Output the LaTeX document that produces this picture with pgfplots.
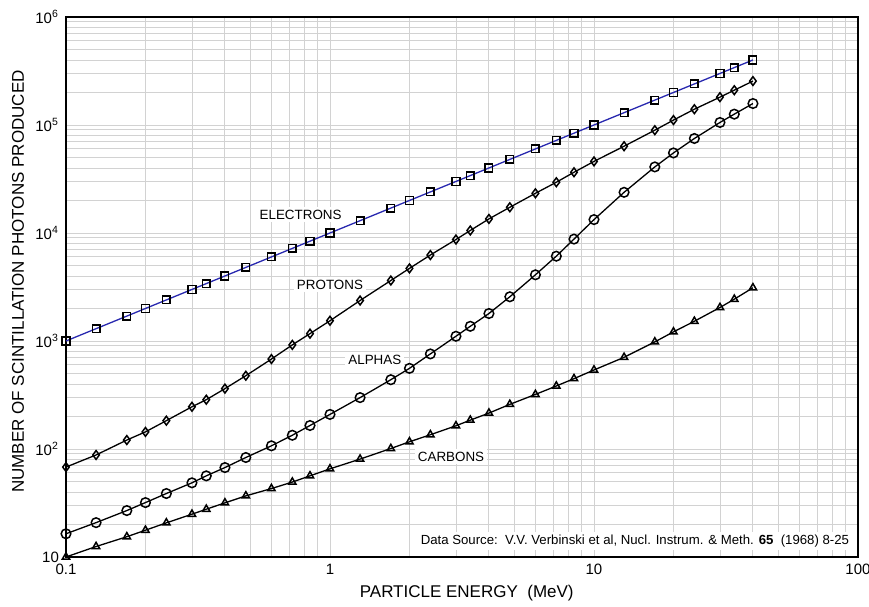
\documentclass[border=0pt]{standalone}
\usepackage{pgfplots}
\pgfplotsset{compat=1.18}
\usepackage{fontspec}
\setmainfont{Liberation Sans}
\definecolor{eblue}{RGB}{40,40,175}
\definecolor{gridgray}{RGB}{210,210,210}
\begin{document}
\begin{tikzpicture}
\begin{axis}[
  xmode=log, ymode=log,
  width=396pt, height=270pt, scale only axis,
  xmin=0.1, xmax=100, ymin=10, ymax=1e6,
  xtick={0.1,1,10,100}, xticklabels={0.1,1,10,100},
  ytick={10,100,1000,10000,100000,1000000},
  yticklabels={10,10\textsuperscript{2},10\textsuperscript{3},10\textsuperscript{4},10\textsuperscript{5},10\textsuperscript{6}},
  major tick length=0pt, minor tick length=0pt,
  grid=both,
  major grid style={gridgray, line width=0.45pt},
  minor grid style={gridgray, line width=0.45pt},
  axis line style={black, line width=1.3pt},
  tick label style={font=\fontsize{7.5}{9}\selectfont, text=black},
  xlabel={PARTICLE ENERGY\ \ (MeV)},
  ylabel={NUMBER OF SCINTILLATION PHOTONS PRODUCED},
  label style={font=\fontsize{8.5}{10}\selectfont},
  xlabel style={at={(rel axis cs:0.506,-0.0667)}, anchor=center},
  ylabel style={at={(rel axis cs:-0.0606,0.51)}, anchor=center},
  clip=false,
]
\coordinate (sw) at (rel axis cs:0,0);
\coordinate (ne) at (rel axis cs:1,1);
% Electrons
\addplot[eblue, line width=0.65pt, mark=square, mark size=1.9pt, mark options={black, solid, fill=none, line width=0.75pt}] coordinates {
(0.1,1000) (0.13,1300) (0.17,1700) (0.2,2000) (0.24,2400) (0.3,3000) (0.34,3400) (0.4,4000) (0.48,4800) (0.6,6000) (0.72,7200) (0.84,8400)
(1.0,10000) (1.3,13000) (1.7,17000) (2.0,20000) (2.4,24000) (3.0,30000) (3.4,34000) (4.0,40000) (4.8,48000) (6.0,60000) (7.2,72000) (8.4,84000)
(10,100000) (13,130000) (17,170000) (20,200000) (24,240000) (30,300000) (34,340000) (40,400000)
};
% Protons
\addplot[black, line width=0.65pt, mark=diamond, mark size=2.2pt, mark options={black, solid, fill=none, line width=0.75pt}] coordinates {
(0.1,68) (0.13,88) (0.17,121) (0.2,144) (0.24,183) (0.3,246) (0.34,286) (0.4,362) (0.48,477) (0.6,680) (0.72,920) (0.84,1170)
(1.0,1540) (1.3,2370) (1.7,3630) (2.0,4700) (2.4,6250) (3.0,8700) (3.4,10550) (4.0,13500) (4.8,17300) (6.0,23300) (7.2,29500) (8.4,36500)
(10,46000) (13,63600) (17,89500) (20,111000) (24,140000) (30,181000) (34,210000) (40,255000)
};
% Alphas
\addplot[black, line width=0.65pt, mark=o, mark size=2.4pt, mark options={black, solid, fill=none, line width=0.75pt}] coordinates {
(0.1,16.4) (0.13,20.8) (0.17,26.9) (0.2,31.9) (0.24,38.7) (0.3,48.6) (0.34,56.4) (0.4,67.3) (0.48,83.4) (0.6,107) (0.72,134) (0.84,165)
(1.0,209) (1.3,299) (1.7,438) (2.0,558) (2.4,759) (3.0,1106) (3.4,1368) (4.0,1796) (4.8,2566) (6.0,4100) (7.2,6100) (8.4,8780)
(10,13300) (13,23800) (17,40900) (20,55100) (24,75000) (30,105500) (34,126000) (40,158000)
};
% Carbons
\addplot[black, line width=0.65pt, mark=triangle, mark size=2.1pt, mark options={black, solid, fill=none, line width=0.75pt}] coordinates {
(0.1,10) (0.13,12.5) (0.17,15.4) (0.2,17.7) (0.24,20.7) (0.3,24.9) (0.34,27.7) (0.4,31.7) (0.48,36.8) (0.6,43.0) (0.72,49.4) (0.84,56.4)
(1.0,65.5) (1.3,80.6) (1.7,101) (2.0,116.6) (2.4,135.5) (3.0,164) (3.4,185) (4.0,215) (4.8,259) (6.0,320) (7.2,383) (8.4,448)
(10,539) (13,706) (17,981) (20,1214) (24,1523) (30,2042) (34,2438) (40,3110)
};
\node[fill=white, inner sep=1.5pt, font=\fontsize{6.7}{8}\selectfont] at (axis cs:0.774,14860) {ELECTRONS};
\node[fill=white, inner sep=1.5pt, font=\fontsize{6.7}{8}\selectfont] at (axis cs:1.0,3335) {PROTONS};
\node[fill=white, inner sep=1.5pt, font=\fontsize{6.7}{8}\selectfont] at (axis cs:1.479,671) {ALPHAS};
\node[fill=white, inner sep=1.5pt, font=\fontsize{6.7}{8}\selectfont] at (axis cs:2.874,84.8) {CARBONS};
\node[anchor=east, fill=white, inner sep=1.5pt, font=\fontsize{6.6}{8}\selectfont] at (rel axis cs:0.993,0.0296) {Data Source:\ \ V.V. Verbinski et al, Nucl. Instrum. \& Meth. \textbf{65}\ \ (1968) 8-25};
\end{axis}
\pgfresetboundingbox
\path ([xshift=-33pt,yshift=-25pt]sw) rectangle ([xshift=5.5pt,yshift=8.5pt]ne);
\end{tikzpicture}
\end{document}
